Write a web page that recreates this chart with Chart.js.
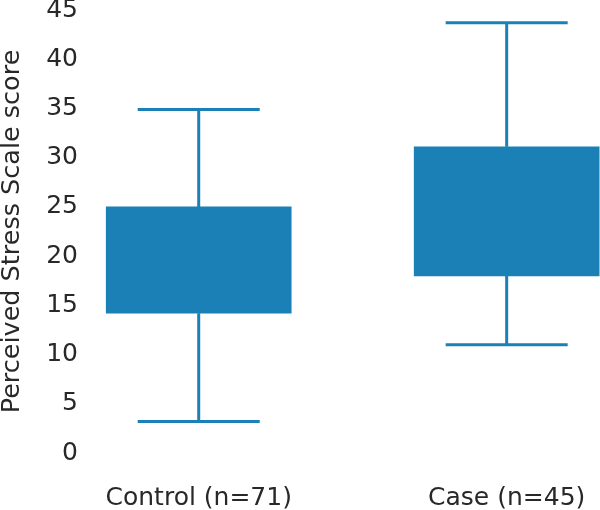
<!DOCTYPE html>
<html lang="en">
<head>
  <meta charset="UTF-8" />
  <title>Perceived Stress Scale score</title>
  <script src="https://cdn.jsdelivr.net/npm/chart.js@4.4.0/dist/chart.umd.min.js"></script>
  <style>
    html, body { margin: 0; padding: 0; background: #fff; }
    canvas { display: block; }
  </style>
</head>
<body>
  <canvas id="pss" width="600" height="510"></canvas>

  <script>
    // box plot summary
    const groups      = ["Control (n=71)", "Case (n=45)"];
    const whiskerLow  = [3.2, 11];
    const q1          = [14.2, 18];
    const q3          = [25, 31.1];
    const whiskerHigh = [34.9, 43.7];
    const yTicks      = [0, 5, 10, 15, 20, 25, 30, 35, 40, 45];

    const BLUE = "#1a80b5";
    const TEXT = "#282828";
    const FONT = "'DejaVu Sans', Verdana, sans-serif";

    // whiskers + caps, drawn through the chart's own scales
    const whiskers = {
      id: "whiskers",
      afterDatasetsDraw(chart) {
        const { ctx, scales: { x, y } } = chart;
        ctx.save();
        ctx.strokeStyle = BLUE;
        ctx.lineWidth = 3;
        groups.forEach((g, i) => {
          const cx = x.getPixelForValue(i);
          const capL = cx - 61, capR = cx + 61;
          const yLo = y.getPixelForValue(whiskerLow[i]);
          const yHi = y.getPixelForValue(whiskerHigh[i]);
          ctx.beginPath();
          ctx.moveTo(cx, y.getPixelForValue(q1[i]));
          ctx.lineTo(cx, yLo);
          ctx.moveTo(cx, y.getPixelForValue(q3[i]));
          ctx.lineTo(cx, yHi);
          ctx.moveTo(capL, yLo); ctx.lineTo(capR, yLo);
          ctx.moveTo(capL, yHi); ctx.lineTo(capR, yHi);
          ctx.stroke();
        });
        ctx.restore();
      }
    };

    new Chart(document.getElementById("pss"), {
      type: "bar",
      data: {
        datasets: [{
          data: groups.map((g, i) => ({ x: i, y: [q1[i], q3[i]] })),
          backgroundColor: BLUE,
          borderWidth: 0,
          barThickness: 185,
          clip: false
        }]
      },
      options: {
        responsive: false,
        animation: false,
        layout: { padding: { top: 10, right: 0, bottom: 0, left: 0 } },
        plugins: { legend: { display: false }, tooltip: { enabled: false } },
        scales: {
          x: {
            type: "linear",
            offset: false,
            min: -0.366,
            max: 1.303,
            grid: { display: false, drawTicks: false, offset: false },
            border: { display: false },
            afterBuildTicks: s => { s.ticks = groups.map((g, i) => ({ value: i })); },
            afterFit: s => { s.height = 57; s.paddingLeft = 0; s.paddingRight = 0; },
            ticks: {
              padding: 30,
              color: TEXT,
              font: { family: FONT, size: 25 },
              maxRotation: 0,
              callback: v => groups[v]
            }
          },
          y: {
            min: 0,
            max: 45,
            grid: { display: false, drawTicks: false },
            border: { display: false },
            afterBuildTicks: s => { s.ticks = yTicks.map(v => ({ value: v })); },
            afterFit: s => { s.width = 86; s.paddingTop = 0; s.paddingBottom = 0; },
            ticks: {
              padding: 8,
              color: TEXT,
              font: { family: FONT, size: 25, lineHeight: 0.8 }
            },
            title: {
              display: true,
              text: "Perceived Stress Scale score",
              color: TEXT,
              padding: 0,
              font: { family: FONT, size: 25.5, lineHeight: 1 }
            }
          }
        }
      },
      plugins: [whiskers]
    });
  </script>
</body>
</html>
